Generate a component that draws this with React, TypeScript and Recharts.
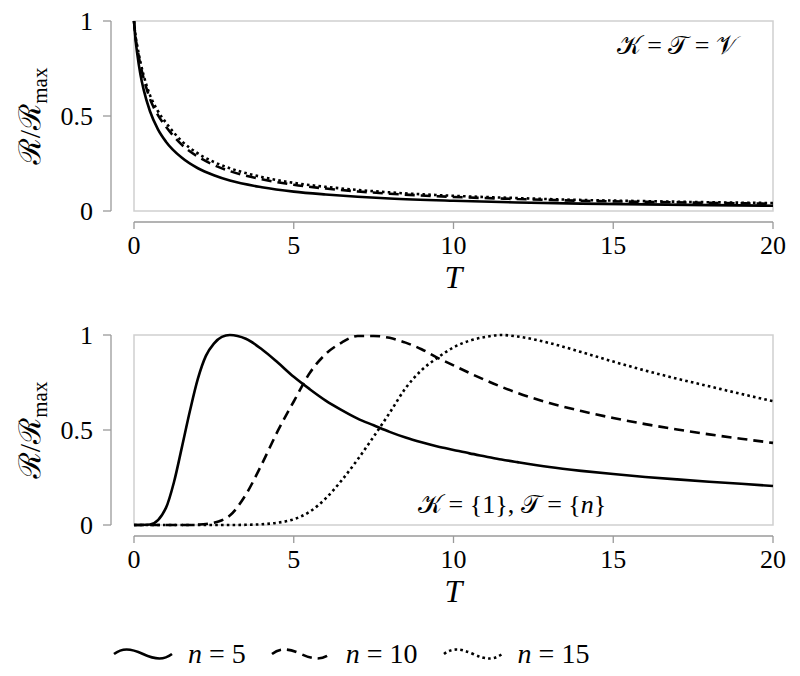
import React from 'react';
import { LineChart, Line, XAxis, YAxis, ReferenceArea } from 'recharts';

// top panel: K = T = V
const T_TOP = [0, 0.05, 0.1, 0.2, 0.3, 0.5, 0.75, 1, 1.5, 2, 2.5, 3, 4, 5, 6, 7, 8, 10, 12, 14, 16, 18, 20];
const TOP_N5 = [1, 0.9, 0.83, 0.72, 0.64, 0.525, 0.43, 0.365, 0.28, 0.225, 0.188, 0.16, 0.125, 0.102, 0.087, 0.075, 0.066, 0.054, 0.045, 0.039, 0.035, 0.031, 0.028];
const TOP_N10 = [1, 0.91, 0.86, 0.77, 0.7, 0.59, 0.505, 0.444, 0.348, 0.286, 0.242, 0.21, 0.167, 0.138, 0.118, 0.103, 0.091, 0.074, 0.063, 0.054, 0.048, 0.043, 0.038];
const TOP_N15 = [1, 0.92, 0.87, 0.785, 0.715, 0.61, 0.525, 0.465, 0.367, 0.303, 0.258, 0.225, 0.179, 0.148, 0.127, 0.111, 0.098, 0.08, 0.068, 0.058, 0.052, 0.046, 0.042];

// bottom panel: K = {1}, T = {n}
const T_BOT = [0, 0.5, 1, 1.25, 1.5, 1.75, 2, 2.25, 2.5, 2.75, 3, 3.5, 4, 4.5, 5, 5.5, 6, 6.5, 7, 7.5, 8, 8.5, 9, 9.5, 10, 10.5, 11, 11.5, 12, 13, 14, 15, 16, 17, 18, 19, 20];
const BOT_N5 = [0, 0.003, 0.09, 0.225, 0.41, 0.6, 0.77, 0.89, 0.955, 0.99, 1.0, 0.98, 0.925, 0.855, 0.78, 0.715, 0.655, 0.605, 0.56, 0.525, 0.49, 0.46, 0.435, 0.413, 0.395, 0.377, 0.361, 0.345, 0.331, 0.305, 0.285, 0.268, 0.253, 0.24, 0.228, 0.217, 0.205];
const BOT_N10 = [0, 0, 0, 0, 0, 0, 0.002, 0.005, 0.012, 0.025, 0.05, 0.16, 0.32, 0.495, 0.65, 0.8, 0.9, 0.96, 0.995, 0.995, 0.985, 0.96, 0.925, 0.88, 0.84, 0.8, 0.762, 0.727, 0.695, 0.642, 0.6, 0.563, 0.531, 0.503, 0.477, 0.454, 0.432];
const BOT_N15 = [0, 0, 0, 0, 0, 0, 0, 0, 0, 0, 0, 0.001, 0.004, 0.012, 0.03, 0.07, 0.14, 0.235, 0.345, 0.465, 0.59, 0.72, 0.815, 0.88, 0.935, 0.97, 0.99, 1.0, 0.992, 0.958, 0.91, 0.86, 0.813, 0.77, 0.73, 0.69, 0.652];

const X_TICKS = [0, 5, 10, 15, 20];
const Y_TICKS = [0, 0.5, 1];
const SERIES = [
  { key: 'n5', n: '5' },
  { key: 'n10', n: '10' },
  { key: 'n15', n: '15' },
];
const DASH: Record<string, string | undefined> = { n5: undefined, n10: '10 6', n15: '2.6 3.2' };

const FONT = "'Liberation Serif', 'Times New Roman', Times, 'DejaVu Serif', 'Noto Serif', serif";
const AXIS = '#9a9a9a';
const FRAME = '#d0d0d0';
const W = 800;
const H = 300;
const MARGIN = { top: 21, right: 25, left: 0, bottom: 0 };
const YW = 111;
const XH = 78;
const PAD_L = 23;
const PAD_R = 2;
const PAD_B = 11;
const PLOT_H = H - MARGIN.top - XH - PAD_B;
const PLOT_W = W - MARGIN.right - YW - PAD_L - PAD_R;

const buildRows = (ts: number[], a: number[], b: number[], c: number[]) =>
  ts.map((t, i) => ({ t, n5: a[i], n10: b[i], n15: c[i] }));

const YTick = (p: any) => {
  const { x, y, payload } = p;
  return (
    <g>
      <line x1={x - 8} x2={x} y1={y} y2={y} stroke={AXIS} strokeWidth={1.3} />
      <text x={x - 18} y={y + 9} textAnchor="end" fontFamily={FONT} fontSize={26} fill="#000">
        {payload.value}
      </text>
      {payload.value === 0 && <line x1={x} x2={x} y1={y} y2={y - PLOT_H} stroke={AXIS} strokeWidth={1.3} />}
    </g>
  );
};

const XTick = (p: any) => {
  const { x, y, payload } = p;
  return (
    <g>
      <line x1={x} x2={x} y1={y} y2={y + 7} stroke={AXIS} strokeWidth={1.3} />
      <text x={x} y={y + 32} textAnchor="middle" fontFamily={FONT} fontSize={26} fill="#000">
        {payload.value}
      </text>
      {payload.value === 0 && <line x1={x} x2={x + PLOT_W} y1={y} y2={y} stroke={AXIS} strokeWidth={1.3} />}
    </g>
  );
};

const YLabel = (p: any) => {
  const vb = p.viewBox || { x: 0, y: 0, width: YW, height: H };
  const cy = vb.y + (vb.height - PAD_B) / 2;
  return (
    <text transform={`translate(40,${cy}) rotate(-90)`} textAnchor="middle" fontFamily={FONT} fontSize={30} fill="#000">
      ℛ/ℛ<tspan dy={7} fontSize={21}>max</tspan>
    </text>
  );
};

const XLabel = (p: any) => {
  const vb = p.viewBox || { x: YW, y: H - XH, width: W - YW, height: XH };
  const cx = vb.x + PAD_L + PLOT_W / 2;
  return (
    <text x={cx} y={vb.y + 66} textAnchor="middle" fontFamily={FONT} fontStyle="italic" fontSize={32} fill="#000">
      T
    </text>
  );
};

const TopNote = (p: any) => {
  const vb = p.viewBox;
  if (!vb) return null;
  return (
    <text x={vb.x + vb.width - 35} y={vb.y + 33} textAnchor="end" fontFamily={FONT} fontSize={26} fill="#000">
      𝒦 = 𝒯 = 𝒱
    </text>
  );
};

const BotNote = (p: any) => {
  const vb = p.viewBox;
  if (!vb) return null;
  return (
    <text x={vb.x + 284} y={vb.y + vb.height - 12} textAnchor="start" fontFamily={FONT} fontSize={26} fill="#000">
      𝒦 = {'{'}1{'}'}, 𝒯 = {'{'}<tspan fontStyle="italic">n</tspan>{'}'}
    </text>
  );
};

const Panel = ({ rows, note }: { rows: any[]; note: React.ReactElement }) => (
  <LineChart width={W} height={H} data={rows} margin={MARGIN}>
    <XAxis
      dataKey="t"
      type="number"
      domain={[0, 20]}
      ticks={X_TICKS}
      interval={0}
      padding={{ left: PAD_L, right: PAD_R }}
      height={XH}
      axisLine={false}
      tickLine={false}
      tickSize={0}
      tickMargin={0}
      tick={<XTick />}
      label={<XLabel />}
    />
    <YAxis
      type="number"
      domain={[0, 1]}
      ticks={Y_TICKS}
      interval={0}
      padding={{ top: 0, bottom: PAD_B }}
      width={YW}
      axisLine={false}
      tickLine={false}
      tickSize={0}
      tickMargin={0}
      tick={<YTick />}
      label={<YLabel />}
    />
    <ReferenceArea x1={0} x2={20} y1={0} y2={1} fill="none" stroke={FRAME} strokeWidth={1.5} label={note} />
    {SERIES.map((s) => (
      <Line
        key={s.key}
        dataKey={s.key}
        type="monotone"
        stroke="#000"
        strokeWidth={2.6}
        strokeDasharray={DASH[s.key]}
        dot={false}
        activeDot={false}
        isAnimationActive={false}
      />
    ))}
  </LineChart>
);

const LegendItem = ({ k, n }: { k: string; n: string }) => (
  <div style={{ display: 'flex', alignItems: 'center', marginRight: 25 }}>
    <svg width={60} height={16} style={{ marginRight: 15 }}>
      <path d="M1,8 C9,2 17,2 30,8 S51,14 59,8" fill="none" stroke="#000" strokeWidth={2.6} strokeDasharray={DASH[k]} />
    </svg>
    <span style={{ fontFamily: FONT, fontSize: 28 }}>
      <i>n</i> = {n}
    </span>
  </div>
);

export default function App() {
  const top = buildRows(T_TOP, TOP_N5, TOP_N10, TOP_N15);
  const bot = buildRows(T_BOT, BOT_N5, BOT_N10, BOT_N15);
  return (
    <div style={{ position: 'absolute', left: 0, top: 0, width: 800, height: 676, background: '#fff' }}>
      <div style={{ position: 'absolute', left: 0, top: 0 }}>
        <Panel rows={top} note={<TopNote />} />
      </div>
      <div style={{ position: 'absolute', left: 0, top: 314 }}>
        <Panel rows={bot} note={<BotNote />} />
      </div>
      <div style={{ position: 'absolute', left: 113, top: 636, display: 'flex', alignItems: 'center', height: 36 }}>
        {SERIES.map((s) => (
          <LegendItem key={s.key} k={s.key} n={s.n} />
        ))}
      </div>
    </div>
  );
}
